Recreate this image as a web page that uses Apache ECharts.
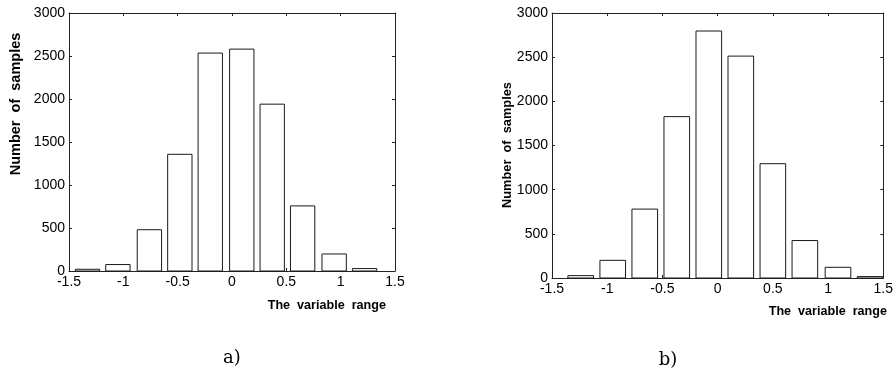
<!DOCTYPE html>
<html>
<head>
<meta charset="utf-8">
<script src="https://cdn.jsdelivr.net/npm/echarts@6/dist/echarts.min.js"></script>
<style>
  html, body { margin: 0; padding: 0; background: #fff; }
  #chart { width: 896px; height: 373px; }
</style>
</head>
<body>
<div id="chart"></div>
<script>
// histogram a) - bin centres and counts
var centersA = [-1.33, -1.05, -0.76, -0.48, -0.20, 0.09, 0.37, 0.65, 0.94, 1.22];
var countsA = [20, 75, 480, 1357, 2534, 2580, 1940, 757, 198, 28];
// histogram b)
var centersB = [-1.24, -0.95, -0.66, -0.37, -0.08, 0.21, 0.50, 0.79, 1.09, 1.38];
var countsB = [27, 200, 780, 1827, 2796, 2512, 1294, 424, 121, 16];
// axis ticks
var xTicks = [-1.5, -1, -0.5, 0, 0.5, 1, 1.5];
var yTicks = [0, 500, 1000, 1500, 2000, 2500, 3000];

var myChart = echarts.init(document.getElementById('chart'));

var fontSans = '"Liberation Sans", Arial, sans-serif';

function toPairs(xs, ys) {
    var out = [];
    for (var i = 0; i < xs.length; i++) {
        out.push([xs[i], ys[i]]);
    }
    return out;
}

// bars are 80% of the bin spacing (matlab hist default)
function makeRender(xs) {
    var half = (xs[1] - xs[0]) * 0.8 / 2;
    return function (params, api) {
        var x = api.value(0), y = api.value(1);
        var p0 = api.coord([x - half, y]);
        var p1 = api.coord([x + half, 0]);
        return {
            type: 'rect',
            shape: { x: p0[0], y: p0[1], width: p1[0] - p0[0], height: p1[1] - p0[1] },
            style: { fill: '#fff', stroke: '#1a1a1a', lineWidth: 1 }
        };
    };
}

function plain(v) { return String(v); }

function xAxisCfg(gi, pos, showLabel) {
    return {
        type: 'value', gridIndex: gi, position: pos,
        min: xTicks[0], max: xTicks[xTicks.length - 1], interval: 0.5,
        axisLine: { show: true, onZero: false, lineStyle: { color: '#222', width: 1 } },
        axisTick: { show: true, inside: true, length: 3, lineStyle: { color: '#222' } },
        axisLabel: { show: showLabel, color: '#000', fontSize: 14, fontFamily: fontSans, margin: 4, formatter: plain },
        splitLine: { show: false }
    };
}
function yAxisCfg(gi, pos, showLabel) {
    return {
        type: 'value', gridIndex: gi, position: pos,
        min: yTicks[0], max: yTicks[yTicks.length - 1], interval: 500,
        axisLine: { show: true, onZero: false, lineStyle: { color: '#222', width: 1 } },
        axisTick: { show: true, inside: true, length: 3, lineStyle: { color: '#222' } },
        axisLabel: { show: showLabel, color: '#000', fontSize: 14, fontFamily: fontSans, margin: 4, formatter: plain },
        splitLine: { show: false }
    };
}

option = {
    backgroundColor: '#fff',
    animation: false,
    grid: [
        { left: 69, top: 13, width: 326, height: 258 },
        { left: 552, top: 13, width: 334, height: 265 }
    ],
    xAxis: [
        xAxisCfg(0, 'bottom', true), xAxisCfg(0, 'top', false),
        xAxisCfg(1, 'bottom', true), xAxisCfg(1, 'top', false)
    ],
    yAxis: [
        yAxisCfg(0, 'left', true), yAxisCfg(0, 'right', false),
        yAxisCfg(1, 'left', true), yAxisCfg(1, 'right', false)
    ],
    series: [
        {
            name: 'a', type: 'custom', xAxisIndex: 0, yAxisIndex: 0,
            renderItem: makeRender(centersA), data: toPairs(centersA, countsA)
        },
        {
            name: 'b', type: 'custom', xAxisIndex: 2, yAxisIndex: 2,
            renderItem: makeRender(centersB), data: toPairs(centersB, countsB)
        }
    ],
    graphic: [
        { type: 'text', x: 16, y: 104, rotation: Math.PI / 2,
          style: { text: 'Number  of  samples', fill: '#000', font: 'bold 14.5px ' + fontSans, align: 'center', verticalAlign: 'middle' } },
        { type: 'text', x: 507, y: 145, rotation: Math.PI / 2,
          style: { text: 'Number  of  samples', fill: '#000', font: 'bold 12.8px ' + fontSans, align: 'center', verticalAlign: 'middle' } },
        { type: 'text', x: 386, y: 306,
          style: { text: 'The  variable  range', fill: '#000', font: 'bold 12.6px ' + fontSans, align: 'right', verticalAlign: 'middle' } },
        { type: 'text', x: 887, y: 312,
          style: { text: 'The  variable  range', fill: '#000', font: 'bold 12.6px ' + fontSans, align: 'right', verticalAlign: 'middle' } },
        { type: 'text', x: 232, y: 358,
          style: { text: 'a)', fill: '#000', font: '18px "DejaVu Serif", serif', align: 'center', verticalAlign: 'middle' } },
        { type: 'text', x: 668, y: 360,
          style: { text: 'b)', fill: '#000', font: '18px "DejaVu Serif", serif', align: 'center', verticalAlign: 'middle' } }
    ]
};
myChart.setOption(option);
</script>
</body>
</html>
